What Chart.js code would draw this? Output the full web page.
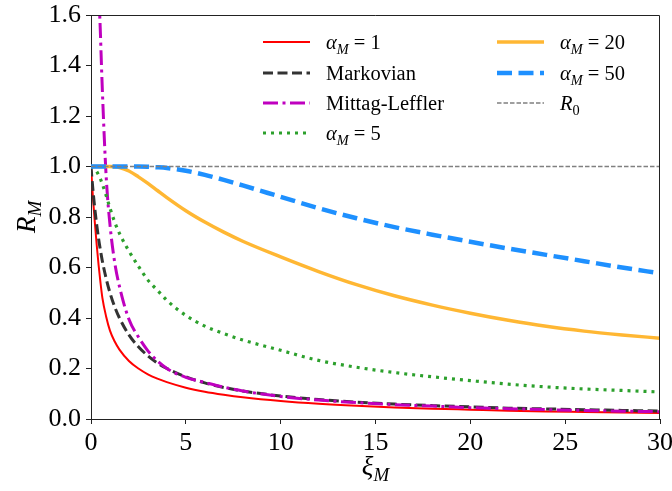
<!DOCTYPE html>
<html>
<head>
<meta charset="utf-8">
<script src="https://cdn.jsdelivr.net/npm/chart.js@4"></script>
<style>
  html, body { margin: 0; padding: 0; background: #fff; }
  #wrap { width: 672px; height: 491px; }
</style>
</head>
<body>
<div id="wrap"><canvas id="chart" width="672" height="491"></canvas></div>
<script>
// values
const xi = [0, 0.05, 0.1, 0.2, 0.3, 0.4, 0.5, 0.6, 0.8, 1, 1.25, 1.5, 2, 2.5, 3, 3.5, 4, 5, 6, 7, 8, 10, 12, 14, 16, 18, 20, 22, 24, 26, 28, 30];
const rAlpha1 = [1, 0.94, 0.88, 0.78, 0.69, 0.61, 0.54, 0.48, 0.405, 0.35, 0.307, 0.275, 0.23, 0.2, 0.177, 0.16, 0.146, 0.124, 0.108, 0.096, 0.086, 0.071, 0.06, 0.052, 0.046, 0.041, 0.037, 0.033, 0.03, 0.028, 0.026, 0.024];
const rMarkov = [1, 0.952, 0.909, 0.833, 0.77, 0.714, 0.667, 0.625, 0.556, 0.5, 0.444, 0.4, 0.333, 0.286, 0.25, 0.222, 0.2, 0.167, 0.143, 0.125, 0.111, 0.091, 0.077, 0.067, 0.059, 0.053, 0.048, 0.043, 0.04, 0.037, 0.034, 0.032];
const rMittag = [null, null, null, 3.6, 2.5, 1.78, 1.52, 1.3, 0.96, 0.77, 0.62, 0.525, 0.395, 0.325, 0.27, 0.23, 0.2, 0.165, 0.145, 0.126, 0.111, 0.089, 0.075, 0.065, 0.057, 0.051, 0.045, 0.041, 0.037, 0.034, 0.031, 0.029];
const rAlpha5 = [1, 0.999, 0.997, 0.99, 0.98, 0.966, 0.95, 0.93, 0.885, 0.835, 0.78, 0.735, 0.665, 0.605, 0.55, 0.51, 0.47, 0.41, 0.368, 0.338, 0.313, 0.272, 0.232, 0.205, 0.184, 0.167, 0.152, 0.138, 0.127, 0.119, 0.113, 0.107];
const rAlpha20 = [1, 1, 1, 1, 1, 1, 1, 1, 1, 1, 0.999, 0.996, 0.982, 0.959, 0.933, 0.905, 0.877, 0.825, 0.78, 0.74, 0.704, 0.642, 0.584, 0.532, 0.488, 0.451, 0.419, 0.391, 0.367, 0.348, 0.333, 0.32];
const rAlpha50 = [1, 1, 1, 1, 1, 1, 1, 1, 1, 1, 1, 1, 1, 1, 0.999, 0.997, 0.994, 0.983, 0.967, 0.947, 0.925, 0.88, 0.835, 0.795, 0.76, 0.73, 0.702, 0.675, 0.65, 0.625, 0.6, 0.577];
const r0Line = [[0, 1], [30, 1]];

const xTicks = [0, 5, 10, 15, 20, 25, 30];
const yTicks = [0, 0.2, 0.4, 0.6, 0.8, 1.0, 1.2, 1.4, 1.6];

// legend texts: i = italic, s = subscript
const seriesLabels = [
  [{ t: 'α', i: 1 }, { t: 'M', i: 1, s: 1 }, { t: ' = 1' }],
  [{ t: 'Markovian' }],
  [{ t: 'Mittag-Leffler' }],
  [{ t: 'α', i: 1 }, { t: 'M', i: 1, s: 1 }, { t: ' = 5' }],
  [{ t: 'α', i: 1 }, { t: 'M', i: 1, s: 1 }, { t: ' = 20' }],
  [{ t: 'α', i: 1 }, { t: 'M', i: 1, s: 1 }, { t: ' = 50' }],
  [{ t: 'R', i: 1 }, { t: '0', s: 1 }]
];
const xTitle = [{ t: 'ξ', i: 1 }, { t: 'M', i: 1, s: 1 }];
const yTitle = [{ t: 'R', i: 1 }, { t: 'M', i: 1, s: 1 }];

const FAMILY = '"Liberation Serif", "DejaVu Serif", serif';

const pts = ys => xi.map((x, k) => ({ x, y: ys[k] })).filter(p => p.y !== null);

const series = [
  { data: pts(rAlpha1), borderColor: '#ff0000', borderWidth: 2, borderDash: [] },
  { data: pts(rMarkov), borderColor: '#333333', borderWidth: 3, borderDash: [10, 4.5] },
  { data: pts(rMittag), borderColor: '#bf00bf', borderWidth: 3, borderDash: [15, 4.5, 3, 4.5] },
  { data: pts(rAlpha5), borderColor: '#2ca02c', borderWidth: 3.2, borderDash: [3, 5] },
  { data: pts(rAlpha20), borderColor: '#ffb733', borderWidth: 3.5, borderDash: [] },
  { data: pts(rAlpha50), borderColor: '#1e90ff', borderWidth: 4.5, borderDash: [15, 6.5] },
  { data: r0Line.map(([x, y]) => ({ x, y })), borderColor: '#808080', borderWidth: 1.3, borderDash: [4.5, 2] }
];

function drawRich(ctx, parts, x, y, size, align) {
  const font = p => (p.i ? 'italic ' : '') + (p.s ? size * 0.7 : size).toFixed(1) + 'px ' + FAMILY;
  let w = 0;
  parts.forEach(p => { ctx.font = font(p); w += ctx.measureText(p.t).width; });
  let cx = align === 'center' ? x - w / 2 : x;
  ctx.textAlign = 'left';
  ctx.textBaseline = 'alphabetic';
  parts.forEach(p => {
    ctx.font = font(p);
    ctx.fillText(p.t, cx, y + (p.s ? size * 0.22 : 0));
    cx += ctx.measureText(p.t).width;
  });
}

const extras = {
  id: 'extras',
  afterDraw(chart) {
    const { ctx, chartArea: a } = chart;
    ctx.save();
    // top and right spines
    ctx.strokeStyle = '#222';
    ctx.lineWidth = 1;
    ctx.beginPath();
    ctx.moveTo(a.left, a.top + 0.5);
    ctx.lineTo(a.right - 0.5, a.top + 0.5);
    ctx.lineTo(a.right - 0.5, a.bottom);
    ctx.stroke();

    ctx.fillStyle = '#000';
    drawRich(ctx, xTitle, (a.left + a.right) / 2, 475, 27, 'center');
    ctx.save();
    ctx.translate(35, (a.top + a.bottom) / 2);
    ctx.rotate(-Math.PI / 2);
    drawRich(ctx, yTitle, 0, 0, 27, 'center');
    ctx.restore();

    // legend, two columns
    const slots = [
      [263, 42], [263, 73], [263, 103], [263, 133],
      [497, 42], [497, 73], [497, 103]
    ];
    chart.data.datasets.forEach((ds, k) => {
      const [lx, ly] = slots[k];
      ctx.strokeStyle = ds.borderColor;
      ctx.lineWidth = ds.borderWidth;
      ctx.setLineDash(ds.borderDash || []);
      ctx.beginPath();
      ctx.moveTo(lx, ly);
      ctx.lineTo(lx + 47, ly);
      ctx.stroke();
      ctx.setLineDash([]);
      ctx.fillStyle = '#000';
      drawRich(ctx, seriesLabels[k], lx + 63, ly + 7, 20.5, 'left');
    });
    ctx.restore();
  }
};

new Chart(document.getElementById('chart'), {
  type: 'line',
  data: {
    datasets: series.map((s, k) => ({
      ...s,
      fill: false,
      pointRadius: 0,
      cubicInterpolationMode: 'monotone',
      borderCapStyle: 'butt',
      order: 10 - k
    }))
  },
  options: {
    responsive: false,
    animation: false,
    layout: { padding: { left: 0, top: 15, right: 12, bottom: 0 } },
    plugins: { legend: { display: false }, tooltip: { enabled: false } },
    scales: {
      x: {
        type: 'linear',
        min: 0,
        max: 30,
        afterBuildTicks: s => { s.ticks = xTicks.map(v => ({ value: v })); },
        afterFit: s => { s.height = 72; s.paddingLeft = 0; s.paddingRight = 0; },
        grid: { drawOnChartArea: false, drawTicks: true, tickLength: 5, color: '#222' },
        border: { display: true, color: '#222', width: 1 },
        ticks: { color: '#000', padding: 4, maxRotation: 0, font: { family: FAMILY, size: 26 }, callback: v => String(v) }
      },
      y: {
        type: 'linear',
        min: 0,
        max: 1.6,
        afterBuildTicks: s => { s.ticks = yTicks.map(v => ({ value: v })); },
        afterFit: s => { s.width = 91; s.paddingTop = 0; s.paddingBottom = 0; },
        grid: { drawOnChartArea: false, drawTicks: true, tickLength: 5, color: '#222' },
        border: { display: true, color: '#222', width: 1 },
        ticks: { color: '#000', padding: 5, font: { family: FAMILY, size: 26 }, callback: v => v.toFixed(1) }
      }
    }
  },
  plugins: [extras]
});
</script>
</body>
</html>
